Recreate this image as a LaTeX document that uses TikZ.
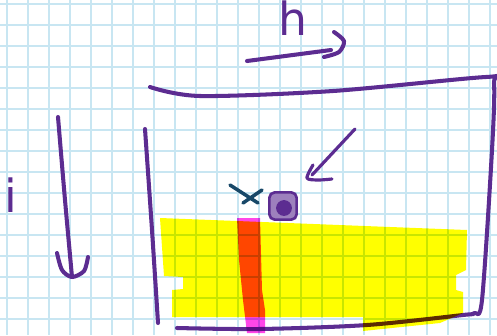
\documentclass[tikz,border=0pt]{standalone}
\usepackage{fontspec}
\setmainfont{DejaVu Sans}
\usetikzlibrary{positioning}

\definecolor{inkpurple}{RGB}{92,44,145}
\definecolor{inkteal}{RGB}{24,72,104}
\definecolor{gridblue}{RGB}{200,230,242}
\definecolor{hlyellow}{RGB}{255,255,0}
\definecolor{hlpink}{RGB}{255,70,232}

\begin{document}
\begin{tikzpicture}[
  x=0.02cm, y=-0.02cm,
  gridline/.style={draw=gridblue, line width=0.6pt},
  pen/.style={draw=inkpurple, line width=2.3pt, line cap=round, line join=round},
  cross/.style={draw=inkteal, line width=2pt, line cap=round},
  marker/.style={fill=#1, draw=none},
  letter/.style={text=inkpurple, font=\fontsize{26}{26}\selectfont, inner sep=0pt},
]
\useasboundingbox (0,0) rectangle (497,335);
\fill[white] (0,0) rectangle (497,335);

% squared paper
\foreach \x in {7,28,...,497} \draw[gridline] (\x,0) -- (\x,335);
\foreach \y in {4,25,...,335} \draw[gridline] (0,\y) -- (497,\y);

% letters
\node[letter] (hlab) at (293,18) {h};
\node[letter] (ilab) at (11,195) {i};

% arrow for h
\coordinate (hstart) at (247,61);
\coordinate (hend) at (331,50);
\draw[pen] (hstart) -- (hend);
\draw[pen] plot[smooth] coordinates {(334,32) (344,41) (339,52) (324,57)};

% arrow for i
\coordinate (istart) at (58,117);
\coordinate (iend) at (72,277);
\draw[pen] plot[smooth] coordinates {(istart) (65,200) (iend)};
\draw[pen] plot[smooth] coordinates {(57,253) (62,270) (72,277) (84,271) (88,257)};

% the box
\draw[pen] plot[smooth, tension=0.5] coordinates {(150,87) (200,96) (333,91) (486,77)
  (494,83) (492,150) (482,300) (474,313) (463,315) (367,325) (260,329) (177,328)};
\draw[pen] plot[smooth] coordinates {(145,129) (152,230) (158,323)};

% small pointer arrow
\coordinate (pstart) at (355,129);
\coordinate (pend) at (312,175);
\draw[pen, line width=1.8pt] (pstart) -- (pend);
\draw[pen, line width=1.8pt] plot[smooth] coordinates {(313,165) (307,178) (318,180) (332,179)};

% cross and blob
\coordinate (xa) at (230,185);
\coordinate (xb) at (258,203);
\coordinate (xc) at (243,203);
\coordinate (xd) at (262,190);
\draw[cross] (xa) -- (xb);
\draw[cross] (xc) -- (xd);
\node[draw=inkpurple, line width=1.5pt, rounded corners=3pt, minimum size=15.5pt,
      inner sep=0pt, fill=inkpurple!60] (blob) at (283,206) {};
\fill[inkpurple] (284,208) circle (4.5pt);

% highlighter strokes
\begin{scope}[blend mode=multiply]
\path[marker=hlyellow] (160,218) -- (467,230) -- (466,270) -- (456,275) -- (456,290)
  -- (463,292) -- (463,313) -- (440,323) -- (363,331) -- (363,317) -- (172,317)
  -- (172,290) -- (183,289) -- (183,277) -- (164,276) -- cycle;
\path[marker=hlpink] (237,218) -- (260,218) -- (262,290) -- (265,310) -- (265,333)
  -- (247,333) -- (243,300) -- (239,260) -- cycle;
\end{scope}
\end{tikzpicture}
\end{document}
